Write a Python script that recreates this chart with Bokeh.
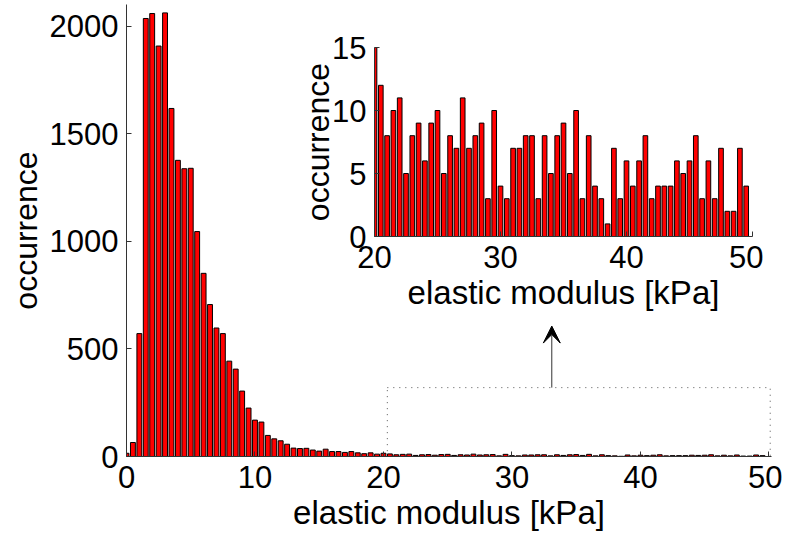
from bokeh.plotting import figure
from bokeh.models import Range1d, Arrow, VeeHead, FixedTicker
from bokeh.layouts import column
from bokeh.embed import file_html
from bokeh.resources import INLINE

# ---------------- data ----------------
bin_width = 0.5
# main histogram, bins centred at 0, 0.5, ..., 19.5
main_counts_low = [15, 65, 571, 2035, 2058, 1907, 2061, 1617, 1376, 1337,
                   1339, 1045, 851, 706, 597, 571, 443, 406, 304, 225,
                   169, 160, 98, 82, 73, 57, 39, 37, 38, 30,
                   25, 34, 23, 23, 19, 23, 17, 13, 17, 11]
# tail (shown in the inset), bins centred at 20, 20.5, ..., 49.5
tail_counts = [15, 12, 8, 10, 11, 5, 8, 9, 6, 9,
               10, 5, 8, 7, 11, 7, 8, 9, 3, 10,
               4, 3, 7, 7, 8, 8, 3, 8, 5, 8,
               9, 5, 10, 3, 8, 4, 3, 1, 7, 3,
               6, 4, 6, 8, 3, 4, 4, 4, 6, 5,
               6, 8, 3, 6, 3, 7, 2, 2, 7, 4]
main_counts = main_counts_low + tail_counts
main_centers = [i * bin_width for i in range(len(main_counts))]
tail_centers = [20 + i * bin_width for i in range(len(tail_counts))]

main_xticks = [0, 10, 20, 30, 40, 50]
main_yticks = [0, 500, 1000, 1500, 2000]
inset_xticks = [20, 30, 40, 50]
inset_yticks = [0, 5, 10, 15]

x_label = "elastic modulus [kPa]"
y_label = "occurrence"

FONT = "Liberation Sans"
AX_COLOR = "#333333"


def style(p, xticks, yticks, ylab_standoff):
    p.grid.visible = False
    p.outline_line_color = None
    p.xaxis.ticker = FixedTicker(ticks=xticks)
    p.yaxis.ticker = FixedTicker(ticks=yticks)
    for ax in (p.xaxis[0], p.yaxis[0]):
        ax.axis_line_color = AX_COLOR
        ax.major_tick_line_color = AX_COLOR
        ax.minor_tick_line_color = None
        ax.major_tick_in = 5
        ax.major_tick_out = 0
        ax.major_label_text_font = FONT
        ax.major_label_text_font_size = "31px"
        ax.major_label_text_color = "black"
        ax.axis_label_text_font = FONT
        ax.axis_label_text_font_style = "normal"
        ax.axis_label_text_color = "black"
    p.xaxis.axis_label_text_font_size = "33px"
    p.yaxis.axis_label_text_font_size = "32px"
    p.xaxis.axis_label = x_label
    p.yaxis.axis_label = y_label
    p.xaxis.major_label_standoff = 9
    p.xaxis.axis_label_standoff = 3
    p.yaxis.major_label_standoff = 8
    p.yaxis.axis_label_standoff = ylab_standoff


# ---------------- inset (first in the column, drawn underneath) ----------------
INSET_TOP, INSET_FRAME_TOP, INSET_H_FRAME, INSET_BOTTOM = 30, 17, 189, 90
q = figure(output_backend="svg", toolbar_location=None,
           frame_width=378, frame_height=INSET_H_FRAME,
           min_border_left=126, min_border_right=11,
           min_border_top=INSET_FRAME_TOP, min_border_bottom=INSET_BOTTOM,
           x_range=Range1d(20, 50), y_range=Range1d(0, 15))
q.background_fill_color = None
q.border_fill_color = None
q.vbar(x=tail_centers, top=tail_counts, width=0.37, bottom=0,
       fill_color="#ff0000", line_color="black", line_width=1)
style(q, inset_xticks, inset_yticks, -7)
q.margin = (INSET_TOP, 0, 0, 248)

# ---------------- main plot (transparent, laid over the inset) ----------------
p = figure(output_backend="svg", toolbar_location=None,
           frame_width=645, frame_height=452,
           min_border_left=126, min_border_right=11,
           min_border_top=4, min_border_bottom=74,
           x_range=Range1d(0, 50.2), y_range=Range1d(0, 2100))
p.background_fill_color = None
p.border_fill_color = None
p.vbar(x=main_centers, top=main_counts, width=0.38, bottom=0,
       fill_color="#ff0000", line_color="black", line_width=1)
style(p, main_xticks, main_yticks, 3)

# dotted zoom box and arrow pointing to the inset
p.quad(left=[20.3], right=[50.1], bottom=[0], top=[320],
       fill_alpha=0, line_color="#555555", line_dash="1 5", line_width=1)
p.add_layout(Arrow(end=VeeHead(size=17, fill_color="black", line_color="black"),
                   x_start=33.1, y_start=320, x_end=33.1, y_end=606,
                   line_color="#333333", line_width=1))

p.margin = (-(INSET_TOP + INSET_FRAME_TOP + INSET_H_FRAME + INSET_BOTTOM), 0, 0, 0)

layout = column(q, p)

open("out.html", "w").write(file_html(layout, INLINE))
